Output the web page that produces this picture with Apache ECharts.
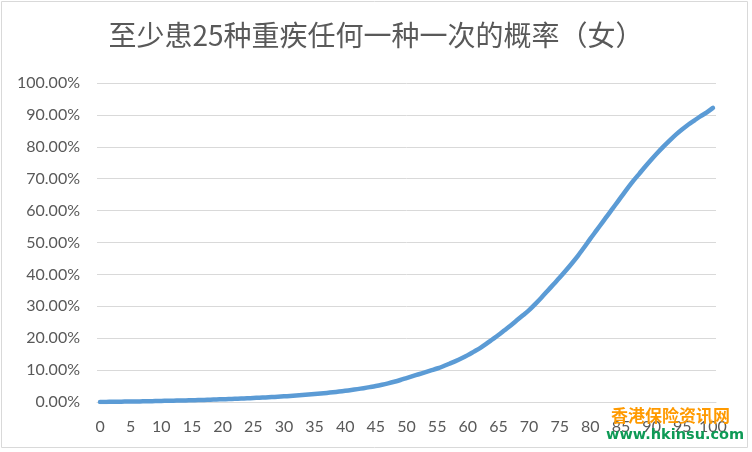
<!DOCTYPE html>
<html>
<head>
<meta charset="utf-8">
<script src="https://cdn.jsdelivr.net/npm/echarts@6/dist/echarts.min.js"></script>
<style>
html,body{margin:0;padding:0;background:#fff;}
#main{width:752px;height:452px;}
</style>
</head>
<body>
<div id="main"></div>
<script>
// 年龄 0-100
var ages=[];
for(var a=0;a<=100;a++){ages.push(String(a));}
// 概率 (%)
var prob=[0.00,0.03,0.06,0.09,0.12,0.15,0.18,0.21,0.25,0.29,
	0.34,0.38,0.42,0.46,0.50,0.55,0.60,0.66,0.72,0.79,
	0.86,0.93,1.00,1.08,1.16,1.25,1.34,1.44,1.54,1.65,
	1.77,1.90,2.03,2.17,2.32,2.48,2.66,2.85,3.05,3.27,
	3.50,3.76,4.04,4.34,4.66,5.00,5.40,5.85,6.35,6.90,
	7.50,8.10,8.70,9.30,9.90,10.50,11.20,12.00,12.80,13.70,
	14.70,15.80,16.90,18.20,19.60,21.00,22.50,24.00,25.60,27.20,
	28.80,30.70,32.70,34.80,36.90,39.00,41.20,43.50,45.90,48.50,
	51.20,53.80,56.40,59.00,61.60,64.20,66.80,69.30,71.60,73.90,
	76.10,78.20,80.20,82.10,83.90,85.50,87.00,88.30,89.60,90.80,
	92.20];
var titleText='至少患25种重疾任何一种一次的概率（女）';
var wmCn='香港保险资讯网';
var wmEn='www.hkinsu.com';

var myChart=echarts.init(document.getElementById('main'));
var lbl={color:'#595959',fontSize:16,fontFamily:'Lato'};
myChart.setOption({
	animation:false,
	title:{
		text:titleText,
		left:'center',
		top:16,
		textStyle:{color:'#595959',fontSize:28,fontWeight:'normal',fontFamily:'"Noto Sans CJK SC"'}
	},
	grid:{left:97,right:36,top:83,bottom:50,containLabel:false},
	xAxis:{
		type:'category',
		data:ages,
		boundaryGap:true,
		axisLine:{lineStyle:{color:'#D9D9D9'}},
		axisTick:{show:false},
		axisLabel:Object.assign({interval:4,margin:17},lbl)
	},
	yAxis:{
		type:'value',
		min:0,max:100,interval:10,
		axisLabel:Object.assign({margin:17,formatter:function(v){return v.toFixed(2)+'%';}},lbl),
		splitLine:{lineStyle:{color:'#D9D9D9'}},
		axisLine:{show:false},
		axisTick:{show:false}
	},
	series:[{
		type:'line',
		data:prob,
		showSymbol:false,
		smooth:0.3,
		lineStyle:{color:'#5B9BD5',width:4.5,cap:'round',join:'round'}
	}],
	graphic:[
		{type:'rect',shape:{x:1.5,y:1.5,width:746,height:446},style:{fill:null,stroke:'#D9D9D9',lineWidth:1},silent:true},
		{type:'text',left:611,top:407,style:{text:wmCn,fill:'#FF9A00',font:'bold 17px "Noto Sans CJK SC"'},z:100},
		{type:'text',left:606,top:428,style:{text:wmEn,fill:'#0E9A56',font:'bold 14.5px "DejaVu Sans"'},z:100}
	]
});
</script>
</body>
</html>
